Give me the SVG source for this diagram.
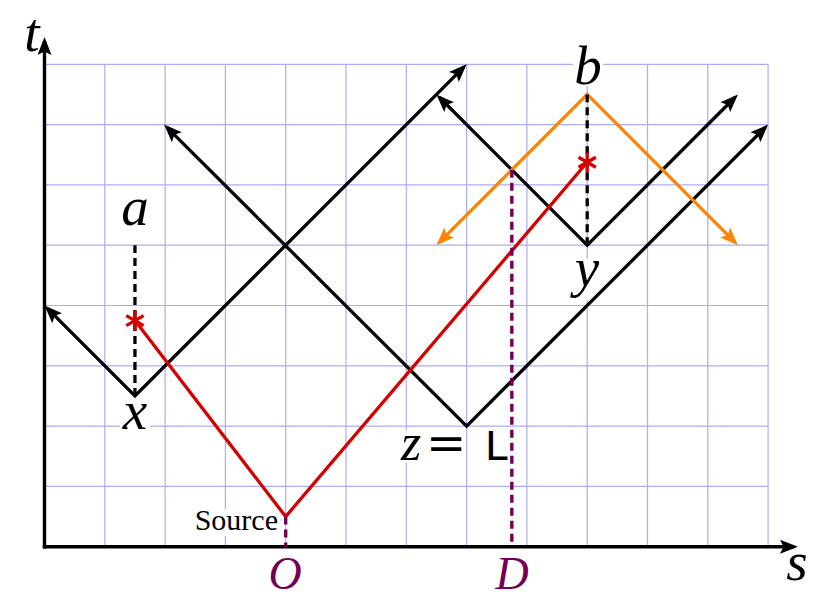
<svg xmlns="http://www.w3.org/2000/svg" xmlns:xlink="http://www.w3.org/1999/xlink" width="829" height="606" viewBox="0 0 829 606">
<style>
.grid line{stroke:#acacf2;stroke-width:1.2}
.ax{stroke:#000;stroke-width:3.4;fill:none}
.blk{stroke:#000;stroke-width:3.3;fill:none}
.org{stroke:#ff8400;stroke-width:3.3;fill:none}
.red{stroke:#d50000;stroke-width:3.3;fill:none}
.dash{stroke:#000;stroke-width:3.3;stroke-dasharray:8 5;fill:none}
.pdash{stroke:#730055;stroke-width:3.4;stroke-dasharray:8 5;fill:none}
.lbl{font-family:"Liberation Serif","Times New Roman",serif;font-style:italic;font-size:55px;text-anchor:middle;fill:#000}
.lblm{font-family:"Liberation Serif","Times New Roman",serif;font-style:italic;font-size:46px;text-anchor:middle}
.src{font-family:"Liberation Serif","Times New Roman",serif;font-size:30px;text-anchor:end}
.bg{fill:#fff}
</style>
<defs>
<marker id="arr" markerUnits="userSpaceOnUse" markerWidth="18" markerHeight="14" viewBox="0 0 18 14" refX="14" refY="7" orient="auto-start-reverse">
<path d="M0,0 L18,7 L0,14 L3.5,7 z" fill="#000"/>
</marker>
<marker id="arrO" markerUnits="userSpaceOnUse" markerWidth="18" markerHeight="14" viewBox="0 0 18 14" refX="14" refY="7" orient="auto-start-reverse">
<path d="M0,0 L18,7 L0,14 L3.5,7 z" fill="#ff8400"/>
</marker>
<g id="star">
<path d="M0,-10 V10 M-8.66,-5 L8.66,5 M-8.66,5 L8.66,-5" stroke="#d50000" stroke-width="3.3" fill="none"/>
</g>
</defs>

<g id="grid" class="grid">
<line x1="104.8" y1="64.3" x2="104.8" y2="546.7"/>
<line x1="165.1" y1="64.3" x2="165.1" y2="546.7"/>
<line x1="225.4" y1="64.3" x2="225.4" y2="546.7"/>
<line x1="285.7" y1="64.3" x2="285.7" y2="546.7"/>
<line x1="346" y1="64.3" x2="346" y2="546.7"/>
<line x1="406.3" y1="64.3" x2="406.3" y2="546.7"/>
<line x1="466.6" y1="64.3" x2="466.6" y2="546.7"/>
<line x1="526.9" y1="64.3" x2="526.9" y2="546.7"/>
<line x1="587.2" y1="64.3" x2="587.2" y2="546.7"/>
<line x1="647.5" y1="64.3" x2="647.5" y2="546.7"/>
<line x1="707.8" y1="64.3" x2="707.8" y2="546.7"/>
<line x1="768.1" y1="64.3" x2="768.1" y2="546.7"/>
<line x1="44.5" y1="486.4" x2="768.1" y2="486.4"/>
<line x1="44.5" y1="426.1" x2="768.1" y2="426.1"/>
<line x1="44.5" y1="365.8" x2="768.1" y2="365.8"/>
<line x1="44.5" y1="305.5" x2="768.1" y2="305.5"/>
<line x1="44.5" y1="245.2" x2="768.1" y2="245.2"/>
<line x1="44.5" y1="184.9" x2="768.1" y2="184.9"/>
<line x1="44.5" y1="124.6" x2="768.1" y2="124.6"/>
<line x1="44.5" y1="64.3" x2="768.1" y2="64.3"/>
</g>

<g id="axes">
<path class="ax" d="M44.5,548.4 V41" marker-end="url(#arr)"/>
<path class="ax" d="M42.8,546.7 H794" marker-end="url(#arr)"/>
<text class="lbl" x="32" y="51">t</text>
<text class="lbl" x="797" y="580">s</text>
</g>

<g id="node-x">
<rect class="bg" x="120" y="404" width="30" height="28"/>
<text class="lbl" x="135" y="429">x</text>
</g>
<g id="node-a">
<text class="lbl" x="135" y="225">a</text>
</g>
<g id="node-y">
<rect class="bg" x="572" y="259" width="30" height="41"/>
<text class="lbl" x="587" y="286">y</text>
</g>
<g id="node-b">
<rect class="bg" x="573" y="49" width="30" height="37"/>
<text class="lbl" x="588" y="84">b</text>
</g>
<g id="node-z">
<rect class="bg" x="396" y="430" width="30" height="32"/>
<text class="lblm" y="460"><tspan x="411" font-size="52">z</tspan><tspan x="446" font-style="normal" font-family="DejaVu Serif, serif" font-size="48">=</tspan><tspan x="497" font-style="normal" font-family="Liberation Mono, monospace" font-size="44">L</tspan></text>
</g>
<g id="node-source">
<rect class="bg" x="190" y="509" width="89" height="27"/>
<text class="src" x="278" y="530">Source</text>
</g>
<g id="node-O">
<text class="lblm" x="285" y="589" fill="#730055">O</text>
</g>
<g id="node-D">
<text class="lblm" x="512" y="589" fill="#730055">D</text>
</g>

<g id="connectors">
<path class="blk" d="M47.33,308.33 L134.95,395.95 L463.77,67.13" marker-start="url(#arr)" marker-end="url(#arr)"/>
<path class="blk" d="M166.93,127.43 L466.6,426.1 L765.27,127.43" marker-start="url(#arr)" marker-end="url(#arr)"/>
<path class="blk" d="M439.28,97.28 L587.2,245.2 L735.12,97.28" marker-start="url(#arr)" marker-end="url(#arr)"/>
<path class="org" d="M439.28,242.37 L587.2,94.45 L735.12,242.37" marker-start="url(#arrO)" marker-end="url(#arrO)"/>
<path class="dash" d="M134.95,395.95 V245.2"/>
<path class="dash" d="M587.2,245.2 V94.45"/>
<path class="red" d="M134.95,320.58 L285.7,516.55 L587.2,162.29"/>
<path class="pdash" d="M285.7,516.55 V546.7"/>
<path class="pdash" d="M511.83,169.83 V546.7"/>
<use xlink:href="#star" x="134.95" y="320.58"/>
<use xlink:href="#star" x="587.2" y="162.29"/>
</g>
</svg>
